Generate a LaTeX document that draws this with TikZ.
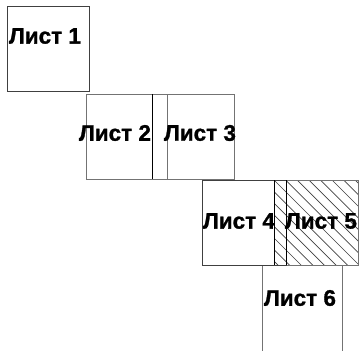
\documentclass[tikz,border=0pt]{standalone}
\usepackage{fontspec}
\setmainfont{Liberation Sans}
\newfontfamily\heavyfont{Liberation Sans}[UprightFont={* Bold},FakeBold=1.2]
\begin{document}
\begin{tikzpicture}[x=1bp,y=-1bp,
  sheet/.style={draw=black!55,line width=0.8bp,inner sep=0pt,outer sep=0pt},
  darkedge/.style={draw=black,line width=0.9bp},
  boldedge/.style={draw=black!75,line width=1bp},
  hatchline/.style={draw=black!75,line width=0.7bp},
  lbl/.style={font=\fontsize{22.5bp}{26bp}\selectfont\heavyfont,inner sep=0pt,text=black}]
\useasboundingbox (0,0) rectangle (360,351);
% sheets
\coordinate (a1) at (7,6);    \coordinate (b1) at (89,91);
\coordinate (a2) at (86,94);  \coordinate (b2) at (167,179);
\coordinate (a3) at (152,94); \coordinate (b3) at (234,179);
\coordinate (a4) at (202,180);\coordinate (b4) at (286,265);
\coordinate (a5) at (274,180);\coordinate (b5) at (358,265);
\coordinate (a6) at (262,265);\coordinate (b6) at (342,362);
% hatching of sheet 5
\begin{scope}
\clip (a5) rectangle (b5);
\foreach \i in {-8,...,8} {
  \draw[hatchline] (274+11.6*\i,180) -- ++(110,110);
}
\end{scope}
\draw[boldedge] (a1) rectangle (b1);
\draw[sheet] (a2) rectangle (b2);
\draw[sheet] (a3) rectangle (b3);
\draw[sheet] (a5) rectangle (b5);
\begin{scope}
\clip (0,0) rectangle (360,351);
\draw[sheet] (a6) rectangle (b6);
\end{scope}
\draw[boldedge] (a4) rectangle (b4);
% darker overlapping edges
\draw[darkedge] (a3) -- (a3 |- b3);
\draw[darkedge] (a5) -- (a5 |- b5);
\draw[darkedge] (b4 |- a4) -- (b4);
% labels
\node[lbl] (t1) at (45,36) {Лист 1};
\node[lbl] (t2) at (115,133) {Лист 2};
\node[lbl] (t3) at (200,133) {Лист 3};
\node[lbl] (t4) at (239,221) {Лист 4};
\node[lbl] (t5) at (321,221) {Лист 5};
\node[lbl] (t6) at (300,298) {Лист 6};
\end{tikzpicture}
\end{document}
